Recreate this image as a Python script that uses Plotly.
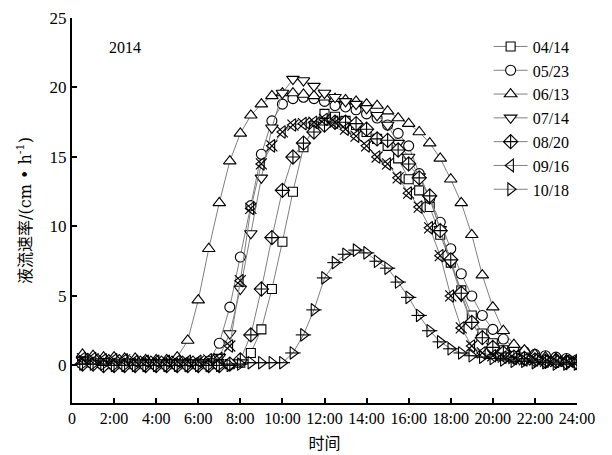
import plotly.graph_objects as go

# Half-hourly sampling times (hours), 00:30 .. 24:00
hours = [0.5 * i for i in range(1, 49)]

d0414 = [0.2, 0.2, 0.1, 0.1, 0.1, 0.1, 0.1, 0.1, 0.1, 0.1, 0.1, 0.1, 0.1, 0.1, 0.1, 0.2,
         0.9, 2.6, 5.5, 8.9, 12.5, 15.7, 17.2, 18.1, 17.9, 17.6, 17.3, 16.8, 16.3, 15.8,
         14.9, 13.4, 12.6, 11.4, 9.4, 7.4, 5.4, 3.6, 2.3, 1.6, 1.1, 0.8, 0.6, 0.5, 0.4,
         0.3, 0.3, 0.2]
d0523 = [0.4, 0.4, 0.3, 0.3, 0.3, 0.3, 0.3, 0.2, 0.2, 0.2, 0.2, 0.2, 0.3,
         1.6, 4.2, 7.8, 11.5, 15.2, 17.6, 18.8, 19.2, 19.3, 19.2, 19.0, 18.7, 18.6, 18.4,
         18.1, 17.8, 17.3, 16.7, 15.8, 13.8, 12.0, 10.3, 8.4, 6.6, 5.0, 3.6, 2.6, 1.9,
         1.3, 1.0, 0.8, 0.7, 0.6, 0.5, 0.4]
d0613 = [0.8, 0.7, 0.6, 0.6, 0.5, 0.5, 0.4, 0.4, 0.4,
         0.6, 1.8, 4.7, 8.4, 11.7, 14.7, 16.7, 18.0, 18.8, 19.4, 19.6, 19.6, 19.5, 19.4,
         19.3, 19.2, 19.1, 19.0, 18.8, 18.7, 18.3, 17.8, 17.4, 16.8, 16.0, 14.9, 13.4,
         11.7, 9.4, 6.5, 4.2, 2.5, 1.5, 1.1, 0.8, 0.6, 0.5, 0.4, 0.4]
d0714 = [0.4, 0.3, 0.3, 0.2, 0.2, 0.2, 0.2, 0.2, 0.1, 0.1, 0.1, 0.1, 0.2,
         0.6, 2.3, 5.5, 9.5, 13.5, 17.1, 19.6, 20.6, 20.5, 20.1, 19.6, 19.3, 19.0, 18.8,
         18.5, 18.0, 17.3, 16.0, 15.0, 13.6, 12.0, 9.8, 7.4, 5.0, 3.0, 2.0, 1.4, 1.0,
         0.8, 0.6, 0.5, 0.4, 0.4, 0.3, 0.3]
d0820 = [0.1, 0.1, 0.0, 0.0, 0.0, 0.0, 0.0, 0.0, 0.0, 0.0, 0.0, 0.0, 0.0, 0.0, 0.1,
         0.4, 2.2, 5.5, 9.2, 12.6, 15.0, 16.0, 16.8, 17.3, 17.5, 17.5, 17.4, 17.0, 16.3,
         16.2, 15.5, 14.5, 13.5, 12.2, 9.7, 7.6, 5.2, 3.1, 2.0, 1.3, 0.9, 0.6, 0.5, 0.4,
         0.3, 0.3, 0.2, 0.2]
d0916 = [0.5, 0.5, 0.4, 0.4, 0.4, 0.3, 0.3, 0.3, 0.3, 0.3, 0.3, 0.3, 0.4, 0.5,
         1.4, 6.1, 11.3, 14.5, 15.8, 16.8, 17.3, 17.4, 17.5, 17.7, 17.5, 17.0, 16.5, 15.8,
         15.0, 14.5, 13.5, 12.4, 11.4, 9.9, 7.9, 5.0, 2.7, 1.4, 0.9, 0.7, 0.6, 0.5, 0.4,
         0.4, 0.3, 0.3, 0.3, 0.3]
d1018 = [0.1, 0.1, 0.1, 0.0, 0.0, 0.0, 0.0, 0.0, 0.0, 0.0, 0.0, 0.0, 0.0, 0.0, 0.0,
         0.1, 0.2, 0.2, 0.2, 0.2,
         0.9, 2.2, 4.0, 6.3, 7.4, 8.0, 8.3, 8.1, 7.5, 7.0, 6.0, 4.9, 3.6, 2.5, 1.7, 1.2,
         0.9, 0.7, 0.6, 0.5, 0.4, 0.3, 0.3, 0.2, 0.2, 0.1, 0.1, 0.1]

dates = ["04/14", "05/23", "06/13", "07/14", "08/20", "09/16", "10/18"]
series = [d0414, d0523, d0613, d0714, d0820, d0916, d1018]

tick_hours = list(range(0, 25, 2))
tick_text = ["0"] + [f"{h}:00" for h in tick_hours[1:]]

FONT = "Liberation Serif, 'Noto Sans CJK SC', serif"
TITLE_FONT = "'DejaVu Serif', 'Noto Sans CJK SC', serif"
LINE_GREY = "#808080"

# marker per series: (symbol, size, fill colour); open symbols are stroked with the fill colour
markers = [
    ("square", 9, "white"),
    ("circle", 10, "white"),
    ("triangle-up", 11, "white"),
    ("triangle-down", 11, "white"),
    ("diamond-cross", 11, "white"),
    ("triangle-left-open", 11, "black"),
    ("triangle-right-open", 11, "black"),
]
# extra glyph drawn on top of some markers
overlay = {5: ("x-thin-open", 11), 6: ("line-ew-open", 11)}

fig = go.Figure()
for i, (name, vals) in enumerate(zip(dates, series)):
    sym, sz, col = markers[i]
    fig.add_trace(go.Scatter(
        x=hours, y=vals, name=name, mode="lines+markers",
        legendgroup=name,
        line=dict(color=LINE_GREY, width=1),
        marker=dict(symbol=sym, size=sz, color=col,
                    line=dict(color="black", width=1.1)),
    ))
    if i in overlay:
        osym, osz = overlay[i]
        fig.add_trace(go.Scatter(
            x=hours, y=vals, mode="markers", legendgroup=name, showlegend=False,
            marker=dict(symbol=osym, size=osz, color="black",
                        line=dict(color="black", width=1.1)),
        ))

fig.add_annotation(x=2.5, y=22.9, text="2014", showarrow=False,
                   font=dict(family=FONT, size=16, color="black"))

fig.update_layout(
    width=612, height=455,
    margin=dict(l=72, r=35, t=18, b=52),
    paper_bgcolor="white", plot_bgcolor="white",
    font=dict(family=FONT, size=17, color="black"),
    showlegend=True,
    legend=dict(x=0.825, y=0.97, xanchor="left", yanchor="top",
                bgcolor="rgba(0,0,0,0)", font=dict(family=FONT, size=16),
                itemwidth=34, tracegroupgap=0),
)
fig.update_xaxes(
    range=[0, 24], tickvals=tick_hours, ticktext=tick_text, automargin=False,
    showgrid=False, zeroline=False, showline=True, linecolor="black", linewidth=2,
    ticks="inside", ticklen=5, tickwidth=1.5, tickcolor="black",
    tickfont=dict(family=FONT, size=16),
    title=dict(text="时间", font=dict(family=FONT, size=16), standoff=12),
)
fig.update_yaxes(
    range=[-2.7, 25], tickvals=[0, 5, 10, 15, 20, 25], automargin=False,
    showgrid=False, zeroline=False, showline=True, linecolor="black", linewidth=2,
    ticks="inside", ticklen=5, tickwidth=1.5, tickcolor="black",
    tickfont=dict(family=FONT, size=17),
    title=dict(text="液流速率/(cm • h<sup>-1</sup>)", font=dict(family=TITLE_FONT, size=16),
               standoff=14),
)

fig.write_html("out.html")
